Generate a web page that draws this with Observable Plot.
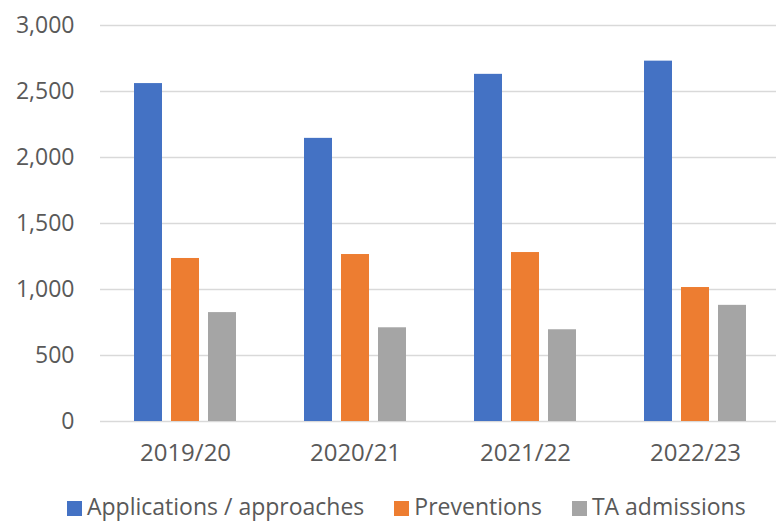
<!DOCTYPE html>
<html>
<head>
<meta charset="utf-8">
<script src="https://cdn.jsdelivr.net/npm/d3@7"></script>
<script src="https://cdn.jsdelivr.net/npm/@observablehq/plot@0.6"></script>
<style>
  html, body { margin: 0; padding: 0; background: #fff; }
  #wrap { position: relative; width: 776px; height: 523px; overflow: hidden; font-family: "Open Sans", sans-serif; }
  #legend { position: absolute; left: 67px; top: 494px; display: flex; align-items: center; font-size: 23px; color: #595959; line-height: 24px; height: 24px; white-space: nowrap; }
  #legend .item { display: flex; align-items: center; }
  #legend .sw { width: 15px; height: 15px; margin-right: 5px; margin-top: 4px; }
  svg g[aria-label="fx-axis tick label"] text { font-size: 24px; }
</style>
</head>
<body>
<div id="wrap"></div>
<script>
const years = ["2019/20", "2020/21", "2021/22", "2022/23"];
const seriesNames = ["Applications / approaches", "Preventions", "TA admissions"];
const seriesColors = ["#4472C4", "#ED7D31", "#A5A5A5"];
const applications = [2560, 2145, 2630, 2730];
const preventions = [1235, 1265, 1280, 1015];
const taAdmissions = [825, 710, 695, 880];
const yTicks = [0, 500, 1000, 1500, 2000, 2500, 3000];

const seriesValues = [applications, preventions, taAdmissions];
const data = [];
years.forEach((y, i) => {
  seriesNames.forEach((s, j) => data.push({year: y, series: s, value: seriesValues[j][i]}));
});

const plot = Plot.plot({
  width: 776,
  height: 480,
  marginLeft: 100,
  marginRight: -4,
  marginTop: 25,
  marginBottom: 59,
  style: {fontFamily: "Open Sans, sans-serif", fontSize: "23px", color: "#595959", background: "#fff"},
  fx: {domain: years, padding: 0, label: null, tickSize: 0, tickPadding: 22},
  x: {domain: seriesNames, paddingInner: 0.24, paddingOuter: 0.875, axis: null},
  y: {domain: [0, 3000], ticks: yTicks, tickFormat: d3.format(","), tickSize: 0, tickPadding: 26, label: null},
  color: {domain: seriesNames, range: seriesColors},
  marks: [
    Plot.ruleY(yTicks, {stroke: "#D9D9D9", strokeWidth: 1.3}),
    Plot.barY(data, {fx: "year", x: "series", y: "value", fill: "series"})
  ]
});
document.getElementById("wrap").appendChild(plot);

const legend = document.createElement("div");
legend.id = "legend";
seriesNames.forEach((name, i) => {
  const item = document.createElement("div");
  item.className = "item";
  item.style.marginRight = i < seriesNames.length - 1 ? "30px" : "0";
  const sw = document.createElement("span");
  sw.className = "sw";
  sw.style.background = seriesColors[i];
  const t = document.createElement("span");
  t.textContent = name;
  item.appendChild(sw);
  item.appendChild(t);
  legend.appendChild(item);
});
document.getElementById("wrap").appendChild(legend);
</script>
</body>
</html>
